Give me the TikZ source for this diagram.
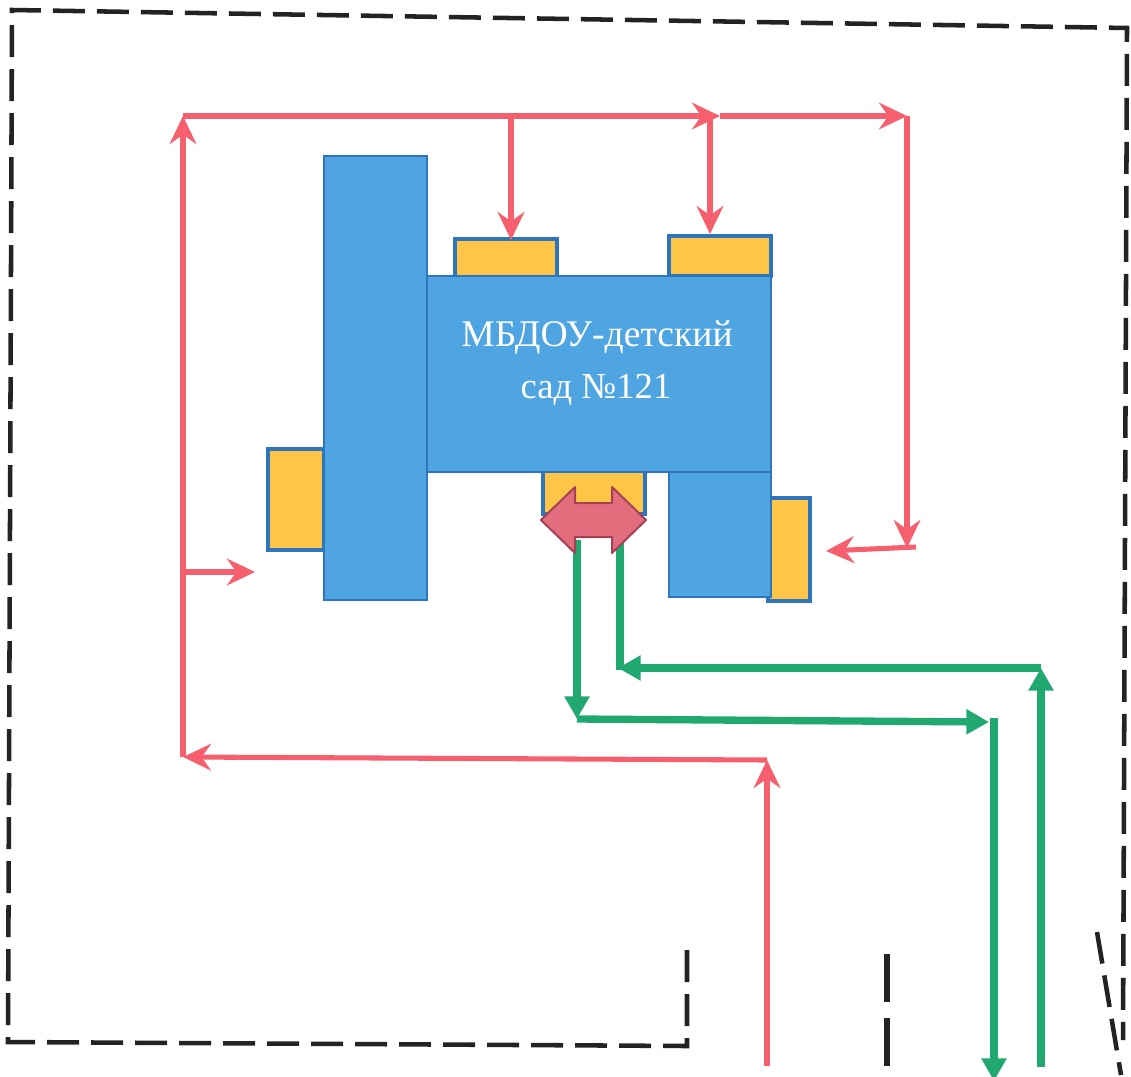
\documentclass[tikz,border=0pt]{standalone}
\usepackage{fontspec}
\setmainfont{Liberation Serif}
\usetikzlibrary{arrows.meta}
\definecolor{roofblue}{RGB}{78,165,226}
\definecolor{edgeblue}{RGB}{46,117,190}
\definecolor{porch}{RGB}{255,197,70}
\definecolor{carred}{RGB}{246,96,110}
\definecolor{walkgreen}{RGB}{32,168,112}
\definecolor{gatepink}{RGB}{226,110,125}
\definecolor{gateedge}{RGB}{165,65,85}
\definecolor{fenceink}{RGB}{35,35,35}
\tikzset{
  fence/.style={fenceink,line width=3.4pt,dash pattern=on 24pt off 9pt},
  carline/.style={carred,line width=3.8pt,-{Stealth[length=21pt,width=20pt,inset=7pt]}},
  walkline/.style={walkgreen,line width=5.5pt,-{Triangle[length=17pt,width=18pt]}},
  block/.style={fill=roofblue,draw=edgeblue,line width=1.5pt},
  porchbox/.style={fill=porch,draw=edgeblue,line width=2.6pt}
}
\begin{document}
\begin{tikzpicture}[x=0.75pt,y=-0.75pt]
  \useasboundingbox (0,0) rectangle (1131,1077);
  % car route points
  \coordinate (rIn) at (767,1066);
  \coordinate (rTurn) at (767,760);
  \coordinate (rLow) at (183,757);
  \coordinate (rTop) at (183,116);
  \coordinate (rMid) at (720,116);
  \coordinate (rEnd) at (907,116);
  \coordinate (rFall) at (907,548);
  \coordinate (rBack) at (916,547);
  \coordinate (rEast) at (826,551);
  \coordinate (rDropA) at (511,116);
  \coordinate (rPorchA) at (511,240);
  \coordinate (rDropB) at (710,116);
  \coordinate (rPorchB) at (710,234);
  \coordinate (rSide) at (183,572);
  \coordinate (rWest) at (255,572);
  % walk route points
  \coordinate (gA) at (577,540);
  \coordinate (gB) at (577,719);
  \coordinate (gC) at (989,722);
  \coordinate (gD) at (994,718);
  \coordinate (gE) at (994,1081);
  \coordinate (hA) at (1041,1067);
  \coordinate (hB) at (1041,668);
  \coordinate (hC) at (618,668);
  \coordinate (hK) at (620,670);
  \coordinate (hD) at (620,540);

  % fence
  \draw[fence] (687,950) -- (687,1046) -- (8,1042) -- (12,10) -- (1127,28) -- (1123,1040);
  \draw[fence,line width=4.4pt,dash pattern=on 36pt off 12pt] (887,954) -- (887,1066);
  \draw[fence] (1097,932) -- (1121,1075);

  % porches, then the blocks over them
  \foreach \a/\b/\c/\d in {455/239/557/277,669/236/771/276,268/449/324/550,543/470/645/514,768/498/810/601}
    \draw[porchbox] (\a,\b) rectangle (\c,\d);
  \draw[block] (669,470) rectangle (771,597);
  \draw[block] (427,276) rectangle (771,472);
  \draw[block] (324,156) rectangle (427,600);
  \node[white,font=\fontsize{28.2}{28.2}\selectfont] (nameA) at (597,338) {МБДОУ-детский};
  \node[white,font=\fontsize{27.5}{27.5}\selectfont] (nameB) at (596,390) {сад №121};

  % car routes
  \draw[carline] (rIn) -- (rTurn);
  \draw[carline] (rTurn) -- (rLow);
  \draw[carline] (rLow) -- (rTop);
  \draw[carline] (rTop) -- (rMid);
  \draw[carline] (rMid) -- (rEnd);
  \draw[carline] (rEnd) -- (rFall);
  \draw[carline] (rBack) -- (rEast);
  \draw[carline] (rDropA) -- (rPorchA);
  \draw[carline] (rDropB) -- (rPorchB);
  \draw[carline] (rSide) -- (rWest);

  % walk routes
  \draw[walkline] (gA) -- (gB);
  \draw[walkline] (gB) -- (gC);
  \draw[walkline] (gD) -- (gE);
  \draw[walkline] (hA) -- (hB);
  \draw[walkline] (hB) -- (hC);
  \draw[walkgreen,line width=5.5pt] (hK) -- (hD);

  % gate
  \draw[fill=gatepink,draw=gateedge,line width=1.5pt,line join=round]
    (541,520) -- (575,487) -- (575,503) -- (612,503) -- (612,487) -- (646,520)
    -- (612,553) -- (612,537) -- (575,537) -- (575,553) -- cycle;
\end{tikzpicture}
\end{document}
